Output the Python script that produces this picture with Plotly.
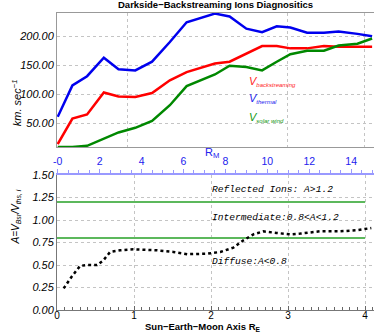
import plotly.graph_objects as go

# top panel: speeds vs distance in R_M
r_moon = [0, 0.7, 1.4, 2.2, 2.9, 3.7, 4.5, 5.35, 6.15, 7.5, 8.2, 9.0,
          9.75, 10.45, 11.1, 11.9, 12.7, 13.4, 14.3, 15.0]
v_thermal = [61, 115, 131, 163, 143, 141, 156, 190, 224, 239, 234, 213,
             207, 217, 215, 206, 206, 208, 204, 200]
v_back = [14, 58, 65, 103, 96, 95, 102, 124, 138, 153, 156, 170,
          183, 183, 179, 179, 183, 182, 182, 182]
v_sw = [9, 9, 11, 24, 34, 42, 54, 81, 114, 134, 149, 147,
        141, 156, 169, 175, 175, 184, 187, 196]

# bottom panel: ratio A vs Sun-Earth-Moon axis (R_E)
r_earth = [0.086, 0.19, 0.30, 0.39, 0.52, 0.60, 0.69, 0.82, 0.99, 1.30,
           1.51, 1.69, 1.95, 2.12, 2.29, 2.42, 2.55, 2.68, 2.85, 3.03,
           3.16, 3.41, 3.67, 3.89, 4.08]
ratio_a = [0.24, 0.37, 0.49, 0.50, 0.50, 0.55, 0.645, 0.663, 0.674, 0.663,
           0.645, 0.62, 0.626, 0.645, 0.693, 0.774, 0.841, 0.874, 0.856, 0.841,
           0.849, 0.874, 0.874, 0.886, 0.911]
thresholds = [0.8, 1.2]
threshold_x = [0, 4]
rm_ticks = [0, 2, 4, 6, 8, 10, 12, 14]
rm_labels = ["-0", "2", "4", "6", "8", "10", "12", "14"]
top_grid = [3.33, 10.94, 14.66]

SANS = "Liberation Sans"
MONO = "Liberation Mono"
GRID = "#c4c4c4"

fig = go.Figure()
fig.add_trace(go.Scatter(x=r_moon, y=v_thermal, mode="lines",
                         line=dict(color="#0000ee", width=2.5), xaxis="x", yaxis="y"))
fig.add_trace(go.Scatter(x=r_moon, y=v_back, mode="lines",
                         line=dict(color="#ff0000", width=2.5), xaxis="x", yaxis="y"))
fig.add_trace(go.Scatter(x=r_moon, y=v_sw, mode="lines",
                         line=dict(color="#008800", width=2.5), xaxis="x", yaxis="y"))
for t in thresholds:
    fig.add_trace(go.Scatter(x=threshold_x, y=[t, t], mode="lines",
                             line=dict(color="#5cb85c", width=2), xaxis="x2", yaxis="y2"))
fig.add_trace(go.Scatter(x=r_earth, y=ratio_a, mode="lines",
                         line=dict(color="black", width=2.5, dash="dot"), xaxis="x2", yaxis="y2"))
# invisible trace so the R_M axis gets drawn
fig.add_trace(go.Scatter(x=rm_ticks, y=[None] * len(rm_ticks), mode="lines",
                         xaxis="x3", yaxis="y2", hoverinfo="skip"))

fig.update_layout(
    width=374, height=333,
    margin=dict(l=57, r=0, t=13, b=23),
    plot_bgcolor="white", paper_bgcolor="white",
    showlegend=False,
    font=dict(family=SANS, size=11, color="black"),
    xaxis=dict(domain=[0, 1], anchor="y", range=[-0.035, 15.09],
               tickvals=top_grid, showticklabels=False, ticks="",
               showgrid=True, gridcolor=GRID, griddash="dot", gridwidth=1,
               showline=True, linecolor="#999999", linewidth=1, mirror=True,
               zeroline=False),
    yaxis=dict(domain=[0.549, 1], anchor="x", range=[9, 240],
               tickvals=[50, 100, 150, 200], tickformat=".2f",
               tickfont=dict(size=11, style="italic"),
               showgrid=True, gridcolor=GRID, griddash="dot", gridwidth=1,
               showline=True, linecolor="#999999", linewidth=1,
               zeroline=False, ticks=""),
    xaxis2=dict(domain=[0, 1], anchor="y2", range=[0, 4.115],
                dtick=1, tick0=0, tickfont=dict(size=10), ticklabelstandoff=-4,
                ticks="inside", ticklen=4, tickcolor="#666666",
                minor=dict(dtick=0.1, ticks="inside", ticklen=3, tickcolor="#666666",
                           showgrid=False),
                showgrid=True, gridcolor=GRID, griddash="dot", gridwidth=1,
                showline=True, linecolor="#777777", linewidth=1, zeroline=False),
    yaxis2=dict(domain=[0, 0.4545], anchor="x2", range=[0, 1.5],
                dtick=0.25, tick0=0, tickformat=".2f",
                tickfont=dict(size=11, style="italic"),
                showgrid=True, gridcolor=GRID, griddash="dot", gridwidth=1,
                showline=True, linecolor="#777777", linewidth=1,
                zeroline=False, ticks=""),
    xaxis3=dict(overlaying="x2", anchor="y2", side="top", range=[-0.035, 15.09],
                tickvals=rm_ticks, ticktext=rm_labels,
                tickfont=dict(size=10.5, color="#2222ee"),
                ticks="outside", ticklen=4, tickcolor="#9999ff",
                minor=dict(dtick=0.5, tick0=0, ticks="outside", ticklen=3,
                           tickcolor="#9999ff"),
                showgrid=False, showline=True, linecolor="#9999ff", linewidth=2,
                zeroline=False),
)

notes = [
    dict(xref="paper", yref="paper", x=0.5, y=(310 - 5) / 297, xanchor="center",
         yanchor="middle", text="<b>Darkside−Backstreaming Ions Diagnositics</b>",
         font=dict(size=9.5)),
    dict(xref="paper", yref="paper", x=-0.155, y=0.785, textangle=-90,
         text="<i>km. sec<sup>−1</sup></i>", font=dict(size=11)),
    dict(xref="paper", yref="paper", x=-0.155, y=0.215, textangle=-90,
         text="<i>A=V<sub>Bsr</sub>/V<sub>ths, i</sub></i>", font=dict(size=10)),
    dict(xref="paper", yref="paper", x=0.489, y=0.529,
         text="R<sub>M</sub>", font=dict(size=11, color="#2222ee")),
    dict(xref="paper", yref="paper", x=0.46, y=-0.058, yanchor="middle",
         text="<b>Sun−Earth−Moon Axis R<sub>E</sub></b>", font=dict(size=9.5)),
    dict(xref="x", yref="y", x=9.03, y=122, xanchor="left",
         text="<i>V<sub><span style='font-size:6px'>backstreaming</span></sub></i>",
         font=dict(size=11, color="#ff2222")),
    dict(xref="x", yref="y", x=9.03, y=93, xanchor="left",
         text="<i>V<sub><span style='font-size:6px'>thermal</span></sub></i>",
         font=dict(size=11, color="#2222ee")),
    dict(xref="x", yref="y", x=9.03, y=60, xanchor="left",
         text="<i>V<sub><span style='font-size:6px'>solar wind</span></sub></i>",
         font=dict(size=11, color="#119911")),
    dict(xref="x2", yref="y2", x=1.99, y=1.34, xanchor="left",
         text="<i>Reflected Ions: A>1.2</i>", font=dict(family=MONO, size=9.6)),
    dict(xref="x2", yref="y2", x=1.99, y=1.03, xanchor="left",
         text="<i>Intermediate:0.8<A<1.2</i>", font=dict(family=MONO, size=9.6)),
    dict(xref="x2", yref="y2", x=1.99, y=0.54, xanchor="left",
         text="<i>Diffuse:A<0.8</i>", font=dict(family=MONO, size=9.6)),
]
for n in notes:
    n.setdefault("showarrow", False)
    fig.add_annotation(**n)

fig.write_html("out.html", config={"displayModeBar": False},
               post_script="document.body.style.margin='0';document.body.style.overflow='hidden';")
